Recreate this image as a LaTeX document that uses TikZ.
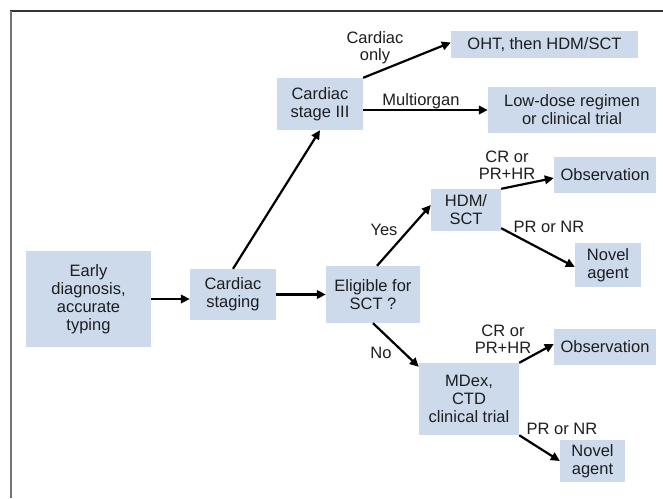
\documentclass[tikz,border=0pt]{standalone}
\usepackage{fontspec}
\setmainfont{Liberation Sans}
\usetikzlibrary{arrows.meta}
\definecolor{boxfill}{RGB}{204,218,236}
\definecolor{txt}{RGB}{30,30,30}
\tikzset{
  box/.style={fill=boxfill, draw=none, align=center, inner sep=0pt, text=txt,
    font=\fontsize{16.5}{18}\selectfont},
  lbl/.style={align=center, inner sep=0pt, text=txt, font=\fontsize{16.5}{17}\selectfont},
  arr/.style={line width=2.2pt, -{Triangle[length=9pt,width=8.5pt]}, black},
}
\begin{document}
\begin{tikzpicture}[x=1pt,y=-1pt]
\useasboundingbox (0,0) rectangle (663,498);
\fill[white] (0,0) rectangle (663,498);
% frame
\draw[line width=1.5pt, black!80] (10,11) -- (663,11);
\draw[line width=2pt, black!55] (10.5,11) -- (10.5,498);
% boxes
\node[box, minimum width=187pt, minimum height=27pt] (oht) at (544.5,44.5) {OHT, then HDM/SCT};
\node[box, minimum width=86pt, minimum height=52pt] (stage3) at (320,104) {Cardiac\\stage III};
\node[box, minimum width=168pt, minimum height=46pt] (lowdose) at (572,110) {Low-dose regimen\\or clinical trial};
\node[box, minimum width=102pt, minimum height=36pt] (obs1) at (605,175) {Observation};
\node[box, minimum width=70pt, minimum height=42pt] (hdm) at (466,210) {HDM/\\SCT};
\node[box, minimum width=66pt, minimum height=44pt] (novel1) at (608,265) {Novel\\agent};
\node[box, minimum width=125pt, minimum height=96pt] (early) at (88.5,299) {Early\\diagnosis,\\accurate\\typing};
\node[box, minimum width=86pt, minimum height=51pt] (staging) at (233,294.5) {Cardiac\\staging};
\node[box, minimum width=94pt, minimum height=57pt] (elig) at (373,294.5) {Eligible for\\SCT ?};
\node[box, minimum width=102pt, minimum height=36pt] (obs2) at (605,347) {Observation};
\node[box, minimum width=100pt, minimum height=72pt] (mdex) at (469,399) {MDex,\\CTD\\clinical trial};
\node[box, minimum width=65pt, minimum height=42pt] (novel2) at (592.5,461) {Novel\\agent};
% labels
\node[lbl] (lco) at (375,48) {Cardiac\\only};
\node[lbl] (lmo) at (421,101) {Multiorgan};
\node[lbl] (lcr1) at (507,165) {CR or\\PR+HR};
\node[lbl] (lyes) at (384,230) {Yes};
\node[lbl] (lpr1) at (549,227) {PR or NR};
\node[lbl] (lno) at (381,353) {No};
\node[lbl] (lcr2) at (503,339) {CR or\\PR+HR};
\node[lbl] (lpr2) at (562,429) {PR or NR};
% arrows
\draw[arr] (early.east) -- (early.east -| staging.west);
\draw[arr] (staging.east) -- (elig.west);
\draw[arr] (staging.north) -- (stage3.south);
\draw[arr] (stage3.north east) -- ([yshift=2pt]oht.west);
\draw[arr] (stage3.east |- lowdose.west) -- (lowdose.west);
\draw[arr] ([xshift=4pt]elig.north) -- ([yshift=5pt]hdm.west);
\draw[arr] (hdm.north east) -- ([yshift=-3pt]obs1.west);
\draw[arr] ([yshift=3pt]hdm.south east) -- ([yshift=-2pt]novel1.west);
\draw[arr] (elig.south) -- ([yshift=-4pt]mdex.north west);
\draw[arr] (mdex.north east) -- ([yshift=3pt]obs2.west);
\draw[arr] (mdex.south east) -- (novel2.west);
\end{tikzpicture}
\end{document}
